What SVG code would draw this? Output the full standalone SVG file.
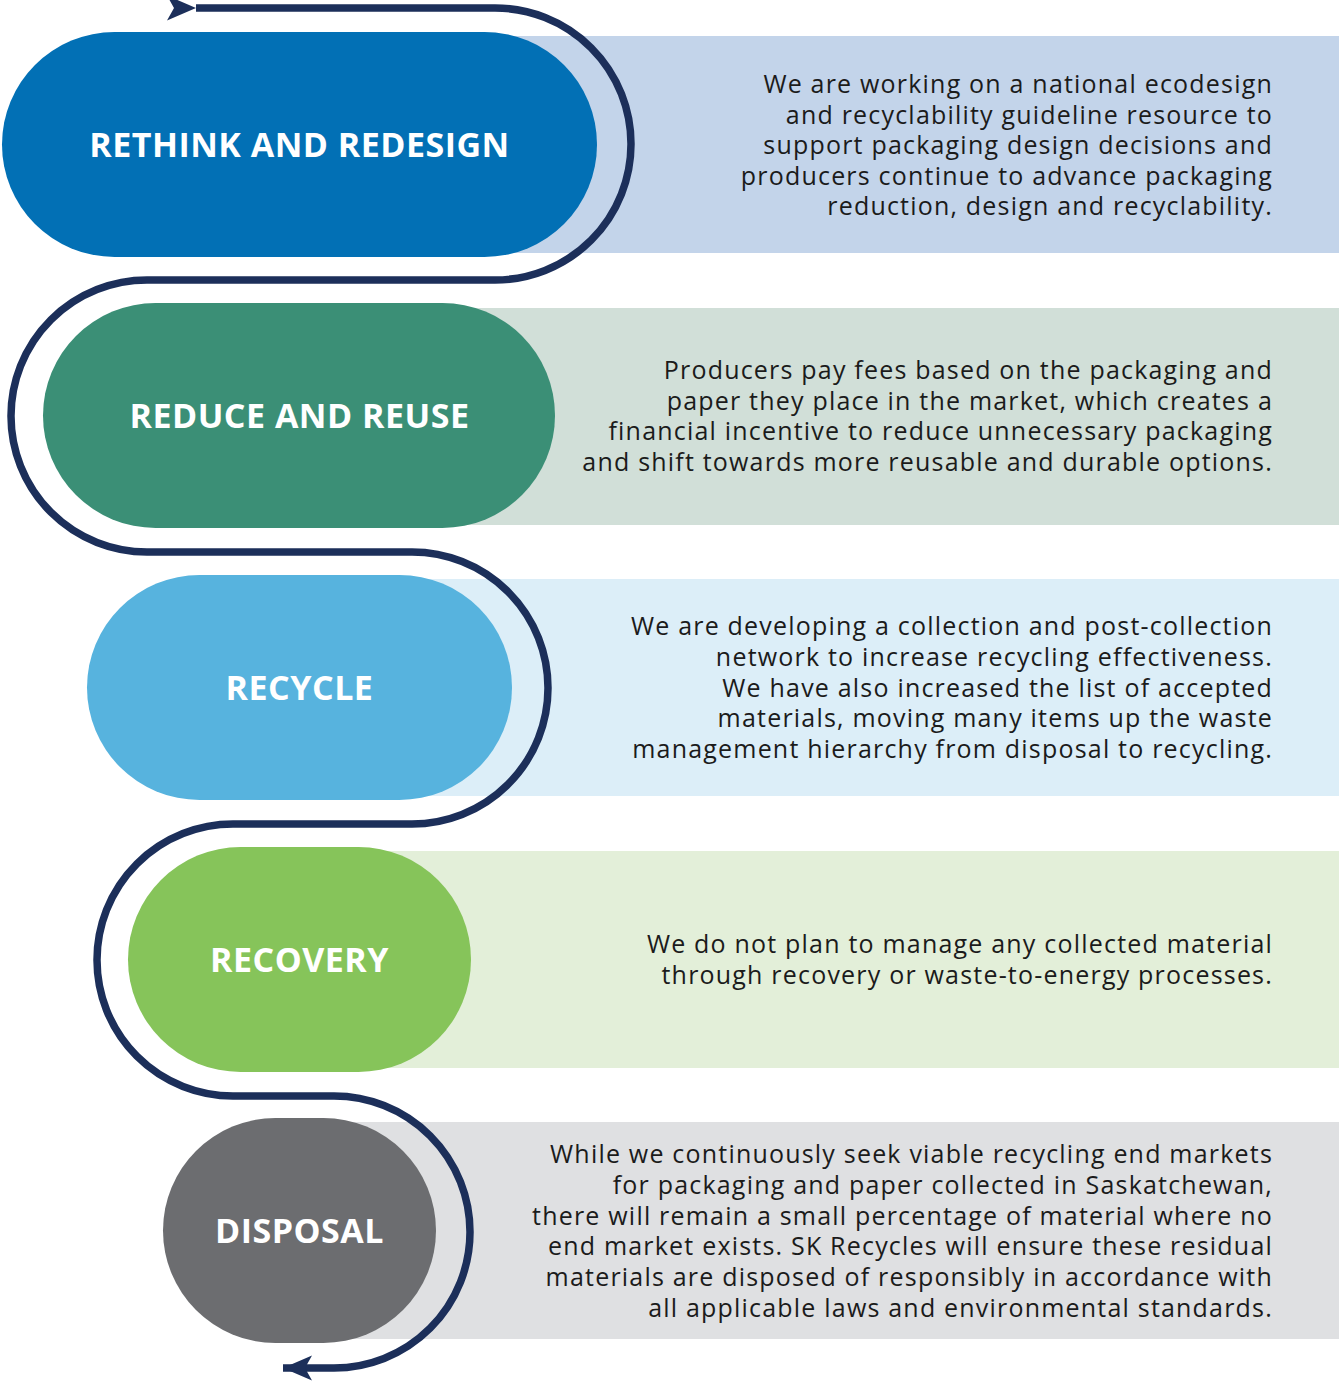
<svg xmlns="http://www.w3.org/2000/svg" width="1339" height="1381" viewBox="0 0 1339 1381">
<style>
.title{font-family:"Open Sans","Liberation Sans",sans-serif;font-weight:700;font-size:34px;letter-spacing:0.5px;fill:#ffffff;text-anchor:middle}
.body{font-family:"Open Sans","Liberation Sans",sans-serif;font-size:25px;letter-spacing:1.2px;fill:#1b1b1b;text-anchor:end}
.flow{fill:none;stroke:#1c2f5a;stroke-width:7.5}
</style>
<defs>
<marker id="arrow" markerUnits="userSpaceOnUse" markerWidth="30" markerHeight="26" refX="29" refY="12.5" orient="auto" viewBox="0 0 30 26">
<path d="M0,0 L29,12.5 L0,25 L7,12.5 Z" fill="#1c2f5a"/>
</marker>
</defs>
<rect width="1339" height="1381" fill="#ffffff"/>
<g id="node-rethink">
<rect x="300" y="36" width="1039" height="217" fill="#c3d4ea"/>
<rect x="2" y="32" width="595" height="225" rx="112.5" fill="#0270b5"/>
<text class="title" x="299.5" y="157">RETHINK AND REDESIGN</text>
<text class="body" x="1273"><tspan x="1273" y="93">We are working on a national ecodesign</tspan><tspan x="1273" y="124">and recyclability guideline resource to</tspan><tspan x="1273" y="154">support packaging design decisions and</tspan><tspan x="1273" y="185">producers continue to advance packaging</tspan><tspan x="1273" y="215">reduction, design and recyclability.</tspan></text>
</g>
<g id="node-reduce">
<rect x="300" y="308" width="1039" height="217" fill="#d1dfd8"/>
<rect x="43" y="303" width="512" height="225" rx="112.5" fill="#3b8f76"/>
<text class="title" x="299.5" y="428">REDUCE AND REUSE</text>
<text class="body" x="1273"><tspan x="1273" y="379">Producers pay fees based on the packaging and</tspan><tspan x="1273" y="410">paper they place in the market, which creates a</tspan><tspan x="1273" y="440">financial incentive to reduce unnecessary packaging</tspan><tspan x="1273" y="471">and shift towards more reusable and durable options.</tspan></text>
</g>
<g id="node-recycle">
<rect x="300" y="579" width="1039" height="217" fill="#dceef8"/>
<rect x="87" y="575" width="425" height="225" rx="112.5" fill="#57b3de"/>
<text class="title" x="299.5" y="700">RECYCLE</text>
<text class="body" x="1273"><tspan x="1273" y="635">We are developing a collection and post-collection</tspan><tspan x="1273" y="666">network to increase recycling effectiveness.</tspan><tspan x="1273" y="697">We have also increased the list of accepted</tspan><tspan x="1273" y="727">materials, moving many items up the waste</tspan><tspan x="1273" y="758">management hierarchy from disposal to recycling.</tspan></text>
</g>
<g id="node-recovery">
<rect x="300" y="851" width="1039" height="217" fill="#e3efd9"/>
<rect x="128" y="847" width="343" height="225" rx="112.5" fill="#86c45a"/>
<text class="title" x="299.5" y="972">RECOVERY</text>
<text class="body" x="1273"><tspan x="1273" y="953">We do not plan to manage any collected material</tspan><tspan x="1273" y="984">through recovery or waste-to-energy processes.</tspan></text>
</g>
<g id="node-disposal">
<rect x="300" y="1122" width="1039" height="217" fill="#dfe0e2"/>
<rect x="163" y="1118" width="273" height="225" rx="112.5" fill="#6c6d70"/>
<text class="title" x="299.5" y="1243">DISPOSAL</text>
<text class="body" x="1273"><tspan x="1273" y="1163">While we continuously seek viable recycling end markets</tspan><tspan x="1273" y="1194">for packaging and paper collected in Saskatchewan,</tspan><tspan x="1273" y="1225">there will remain a small percentage of material where no</tspan><tspan x="1273" y="1255">end market exists. SK Recycles will ensure these residual</tspan><tspan x="1273" y="1286">materials are disposed of responsibly in accordance with</tspan><tspan x="1273" y="1317">all applicable laws and environmental standards.</tspan></text>
</g>
<g id="connectors">
<path class="flow" marker-start="url(#arrow)" marker-end="url(#arrow)" d="M196,8 H495 A136,136 0 0 1 495,280 H147 A136,136 0 0 0 147,552 H412 A136,136 0 0 1 412,824 H233 A136,136 0 0 0 233,1096 H334 A136,136 0 0 1 334,1368 H283"/>
</g>
</svg>
